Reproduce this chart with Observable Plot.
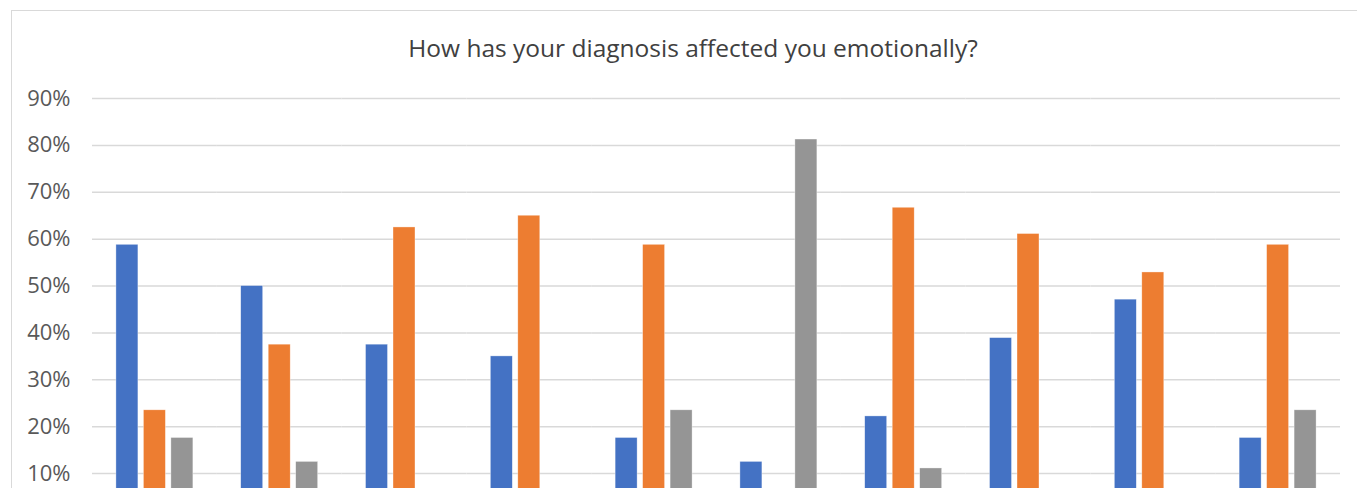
<!DOCTYPE html>
<html>
<head>
<meta charset="utf-8">
<script src="https://cdn.jsdelivr.net/npm/d3@7"></script>
<script src="https://cdn.jsdelivr.net/npm/@observablehq/plot@0.6"></script>
<style>
  html, body { margin: 0; padding: 0; background: #fff; overflow: hidden; }
  #frame { position: absolute; left: 11px; top: 10px; width: 1400px; height: 700px; border: 1.5px solid #d9d9d9; box-sizing: border-box; }
  #title { position: absolute; left: 0; top: 31px; width: 1386px; text-align: center; font-family: "Open Sans", sans-serif; font-size: 24.5px; color: #404040; white-space: nowrap; }
  #chart { position: absolute; left: 0; top: 0; }
</style>
</head>
<body>
<div id="frame"></div>
<div id="title">How has your diagnosis affected you emotionally?</div>
<div id="chart"></div>
<script>
// Categories (x-axis labels are below the visible area of the reference)
const groups = ["Q1", "Q2", "Q3", "Q4", "Q5", "Q6", "Q7", "Q8", "Q9", "Q10"];
const seriesNames = ["Series 1", "Series 2", "Series 3"];
const series1 = [0.588, 0.500, 0.375, 0.350, 0.176, 0.125, 0.222, 0.389, 0.471, 0.176];
const series2 = [0.235, 0.375, 0.625, 0.650, 0.588, 0.0625, 0.667, 0.611, 0.529, 0.588];
const series3 = [0.176, 0.125, 0.000, 0.000, 0.235, 0.8125, 0.111, 0.000, 0.000, 0.235];
const yTicks = [0.1, 0.2, 0.3, 0.4, 0.5, 0.6, 0.7, 0.8, 0.9];
const colors = ["#4472C4", "#ED7D31", "#959595"];

const rows = [];
groups.forEach((g, i) => {
  [series1, series2, series3].forEach((s, j) => {
    rows.push({group: g, series: seriesNames[j], value: s[i]});
  });
});

const chart = Plot.plot({
  width: 1357,
  height: 600,
  marginLeft: 92,
  marginRight: 17,
  marginTop: 98,
  marginBottom: 80,
  style: {background: "transparent", fontFamily: "'Open Sans', sans-serif"},
  fx: {domain: groups, padding: 0, round: false, axis: null},
  x: {domain: seriesNames, paddingInner: 0.2, paddingOuter: 0.87, round: false, axis: null},
  y: {domain: [0, 0.9], axis: null},
  color: {domain: seriesNames, range: colors},
  marks: [
    Plot.ruleY(yTicks, {stroke: "#d9d9d9", strokeWidth: 1.5}),
    Plot.barY(rows, {fx: "group", x: "series", y: "value", fill: "series", stroke: "#fff", strokeWidth: 0.6, strokeOpacity: 0.6}),
    Plot.axisY(yTicks, {
      tickSize: 0,
      tickPadding: 22,
      tickFormat: d => Math.round(d * 100) + "%",
      fontSize: 22,
      fill: "#595959",
      anchor: "left",
      label: null
    })
  ]
});
document.getElementById("chart").appendChild(chart);
</script>
</body>
</html>
